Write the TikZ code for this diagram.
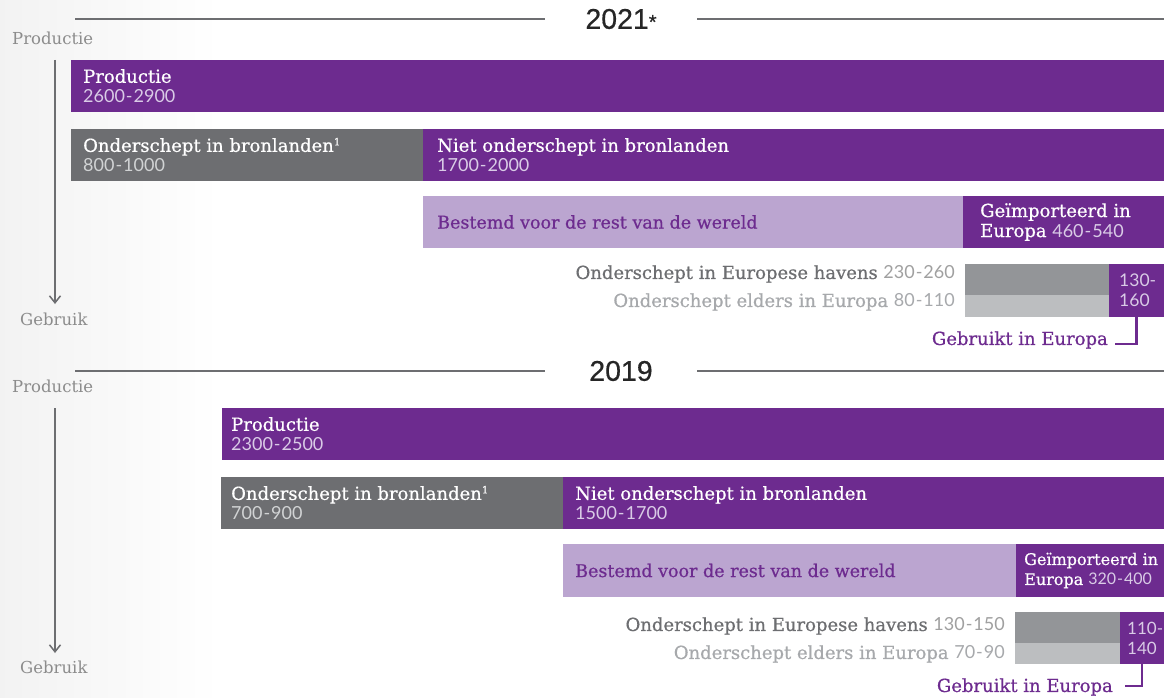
\documentclass[tikz,border=0pt]{standalone}
\usepackage{fontspec}
\setmainfont{DejaVu Serif}
\newfontfamily\labf[FakeBold=0.6]{DejaVu Serif}
\newfontfamily\numf{Lato}
\newfontfamily\hdf[FakeBold=0.5]{Liberation Sans}
\usetikzlibrary{arrows.meta}
\definecolor{pur}{HTML}{6D2B8F}
\definecolor{lpur}{HTML}{BBA5D0}
\definecolor{numpur}{HTML}{D9CBE6}
\definecolor{dgrey}{HTML}{6D6E71}
\definecolor{numgrey}{HTML}{D1D3D4}
\definecolor{mgrey}{HTML}{939598}
\definecolor{lgrey}{HTML}{BCBEC0}
\definecolor{txgrey}{HTML}{6D6E71}
\definecolor{txlgrey}{HTML}{A7A9AC}
\definecolor{nmgrey}{HTML}{A0A0A0}
\definecolor{axgrey}{HTML}{8C8C8C}
\newcommand\supone{\raisebox{6.5pt}{\fontsize{10}{10}\selectfont 1}}
\begin{document}
\begin{tikzpicture}[x=1pt,y=-1pt,
  bar/.style={anchor=north west, inner sep=0pt, outer sep=0pt, draw=none},
  lab/.style={anchor=west, align=left, inner sep=0pt, font=\labf\fontsize{18}{20}\selectfont},
  rlab/.style={anchor=east, align=right, inner sep=0pt, font=\labf\fontsize{18}{20}\selectfont},
  axlab/.style={anchor=west, inner sep=0pt, text=axgrey, font=\fontsize{16.5}{20}\selectfont},
  hline/.style={draw=dgrey, line width=2pt},
  year/.style={inner sep=0pt, minimum width=152pt, font=\hdf\fontsize{28.5}{30}\selectfont, text=black!85},
  axis/.style={draw=dgrey, line width=1.5pt, -{Straight Barb[length=7pt,width=11pt,line width=1.5pt]}},
  brk/.style={draw=pur, line width=2.6pt}
]
\useasboundingbox (0,0) rectangle (1164,698);
\fill[white] (0,0) rectangle (1164,698);
\shade[left color=black!5, right color=white] (0,0) rectangle (220,698);

% ===================== 2021 =====================
\coordinate (h21a) at (75,19);
\coordinate (h21b) at (1164,19);
\node[year] (y21) at (621,19) {2021{\fontsize{20}{20}\selectfont*}};
\draw[hline] (h21a) -- (y21.west);
\draw[hline] (y21.east) -- (h21b);

\node[axlab] (ap21) at (12,38) {Productie};
\node[axlab] (ag21) at (20,319) {Gebruik};
\coordinate (ax21a) at (55,60);
\coordinate (ax21b) at (55,304);
\draw[axis] (ax21a) -- (ax21b);

\node[bar, fill=pur, minimum width=1093pt, minimum height=52pt] (p21) at (71,60) {};
\node[lab, text=white] (p21t) at ([xshift=12pt]p21.west) {Productie\\{\numf\color{numpur}2600\kern1pt-\kern1pt2900}};

\node[bar, fill=dgrey, minimum width=352pt, minimum height=52pt] (o21) at (71,129) {};
\node[lab, text=white] (o21t) at ([xshift=12pt]o21.west) {Onderschept in bronlanden\supone\\{\numf\color{numgrey}800\kern1pt-\kern1pt1000}};

\node[bar, fill=pur, minimum width=741pt, minimum height=52pt] (n21) at (423,129) {};
\node[lab, text=white] (n21t) at ([xshift=14pt]n21.west) {Niet onderschept in bronlanden\\{\numf\color{numpur}1700\kern1pt-\kern1pt2000}};

\node[bar, fill=lpur, minimum width=540pt, minimum height=52pt] (r21) at (423,196) {};
\node[lab, text=pur, font=\labf\fontsize{17.5}{20}\selectfont] (r21t) at ([xshift=14pt]r21.west) {Bestemd voor de rest van de wereld};

\node[bar, fill=pur, minimum width=201pt, minimum height=52pt] (i21) at (963,196) {};
\node[lab, text=white, font=\labf\fontsize{18}{20}\selectfont] (i21t) at ([xshift=17pt]i21.west) {Geïmporteerd in\\Europa {\numf\color{numpur}460\kern1pt-\kern1pt540}};

\node[bar, fill=mgrey, minimum width=144pt, minimum height=31pt] (eh21) at (965,264) {};
\node[bar, fill=lgrey, minimum width=144pt, minimum height=22pt] (ee21) at (965,295) {};
\node[bar, fill=pur, minimum width=55pt, minimum height=53pt] (u21) at (1109,264) {};
\node[lab, text=numpur, font=\numf\fontsize{17.5}{20}\selectfont] (u21t) at ([xshift=10pt]u21.west) {130-\\160};

\node[rlab, text=txgrey] (eh21t) at (955,274) {Onderschept in Europese havens {\numf\color{nmgrey}230\kern1pt-\kern1pt260}};
\node[rlab, text=txlgrey] (ee21t) at (955,302) {Onderschept elders in Europa {\numf\color{txlgrey}80\kern1pt-\kern1pt110}};

\node[rlab, text=pur] (g21t) at (1108,340) {Gebruikt in Europa};
\coordinate (g21c) at (1115,344);
\draw[brk] (u21.south) |- (g21c);

% ===================== 2019 =====================
\coordinate (h19a) at (75,371);
\coordinate (h19b) at (1164,371);
\node[year] (y19) at (621,371) {2019};
\draw[hline] (h19a) -- (y19.west);
\draw[hline] (y19.east) -- (h19b);

\node[axlab] (ap19) at (12,386) {Productie};
\node[axlab] (ag19) at (20,667) {Gebruik};
\coordinate (ax19a) at (55,408);
\coordinate (ax19b) at (55,653);
\draw[axis] (ax19a) -- (ax19b);

\node[bar, fill=pur, minimum width=942pt, minimum height=52pt] (p19) at (222,408) {};
\node[lab, text=white] (p19t) at ([xshift=9pt]p19.west) {Productie\\{\numf\color{numpur}2300\kern1pt-\kern1pt2500}};

\node[bar, fill=dgrey, minimum width=342pt, minimum height=52pt] (o19) at (221,477) {};
\node[lab, text=white] (o19t) at ([xshift=10pt]o19.west) {Onderschept in bronlanden\supone\\{\numf\color{numgrey}700\kern1pt-\kern1pt900}};

\node[bar, fill=pur, minimum width=601pt, minimum height=52pt] (n19) at (563,477) {};
\node[lab, text=white] (n19t) at ([xshift=12pt]n19.west) {Niet onderschept in bronlanden\\{\numf\color{numpur}1500\kern1pt-\kern1pt1700}};

\node[bar, fill=lpur, minimum width=453pt, minimum height=53pt] (r19) at (563,544) {};
\node[lab, text=pur, font=\labf\fontsize{17.5}{20}\selectfont] (r19t) at ([xshift=12pt]r19.west) {Bestemd voor de rest van de wereld};

\node[bar, fill=pur, minimum width=148pt, minimum height=53pt] (i19) at (1016,544) {};
\node[lab, text=white, font=\labf\fontsize{16}{20}\selectfont] (i19t) at ([xshift=8pt]i19.west) {Geïmporteerd in\\Europa {\numf\color{numpur}320\kern1pt-\kern1pt400}};

\node[bar, fill=mgrey, minimum width=105pt, minimum height=31pt] (eh19) at (1015,612) {};
\node[bar, fill=lgrey, minimum width=105pt, minimum height=21pt] (ee19) at (1015,643) {};
\node[bar, fill=pur, minimum width=44pt, minimum height=52pt] (u19) at (1120,612) {};
\node[lab, text=numpur, font=\numf\fontsize{17}{20}\selectfont] (u19t) at ([xshift=7pt]u19.west) {110-\\140};

\node[rlab, text=txgrey] (eh19t) at (1005,626) {Onderschept in Europese havens {\numf\color{nmgrey}130\kern1pt-\kern1pt150}};
\node[rlab, text=txlgrey] (ee19t) at (1005,654) {Onderschept elders in Europa {\numf\color{txlgrey}70\kern1pt-\kern1pt90}};

\node[rlab, text=pur] (g19t) at (1113,687) {Gebruikt in Europa};
\coordinate (g19c) at (1125,686);
\draw[brk] (u19.south) |- (g19c);
\end{tikzpicture}
\end{document}
